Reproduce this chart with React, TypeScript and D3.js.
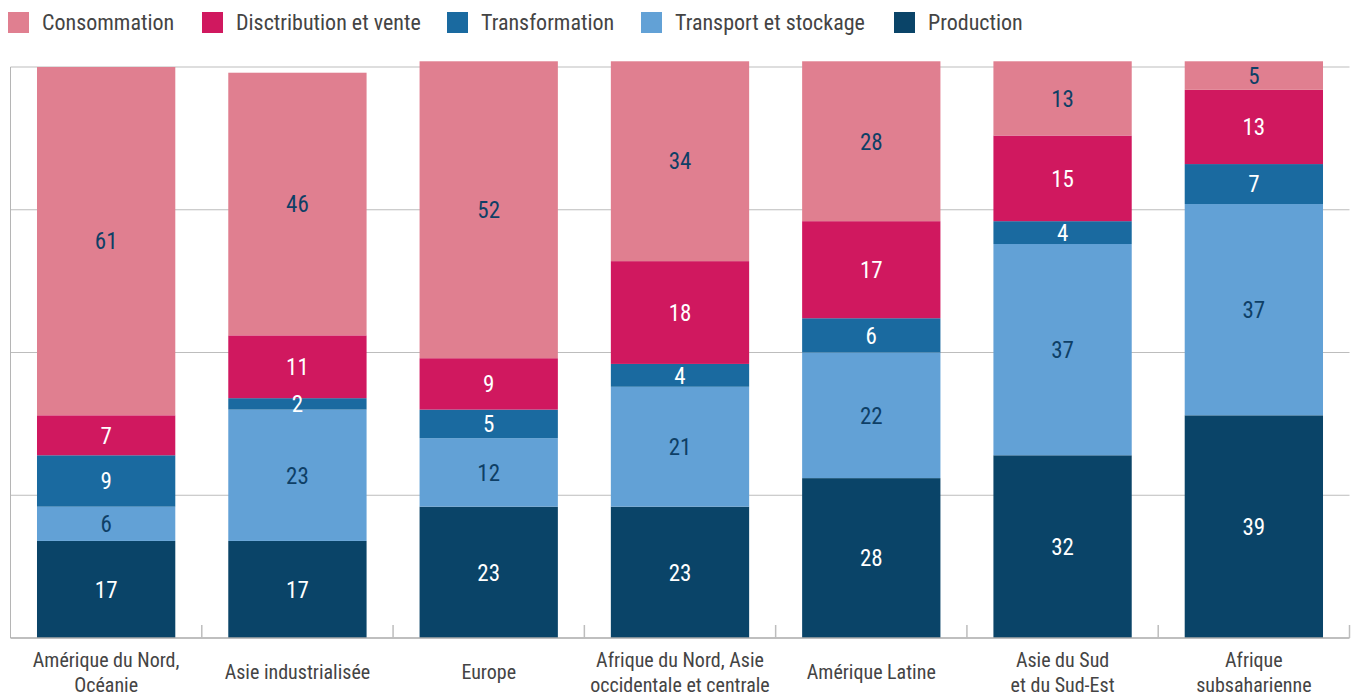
import React, { useEffect } from "react";
import * as d3 from "d3";

const categories: string[][] = [
  ["Amérique du Nord,", "Océanie"],
  ["Asie industrialisée"],
  ["Europe"],
  ["Afrique du Nord, Asie", "occidentale et centrale"],
  ["Amérique Latine"],
  ["Asie du Sud", "et du Sud-Est"],
  ["Afrique", "subsaharienne"],
];

const seriesNames = [
  "Production",
  "Transport et stockage",
  "Transformation",
  "Disctribution et vente",
  "Consommation",
];

const production = [17, 17, 23, 23, 28, 32, 39];
const transport = [6, 23, 12, 21, 22, 37, 37];
const transformation = [9, 2, 5, 4, 6, 4, 7];
const distribution = [7, 11, 9, 18, 17, 15, 13];
const consommation = [61, 46, 52, 35, 28, 13, 5];
const consommationLabels = ["61", "46", "52", "34", "28", "13", "5"];

const legendOrder = [
  "Consommation",
  "Disctribution et vente",
  "Transformation",
  "Transport et stockage",
  "Production",
];

const yTicks = [25, 50, 75, 100];

const W = 1354;
const H = 696;
const colors: Record<string, string> = {
  Production: "#0a4468",
  "Transport et stockage": "#62a1d6",
  Transformation: "#1a6aa0",
  "Disctribution et vente": "#d0185f",
  Consommation: "#e07f90",
};
const labelColor: Record<string, string> = {
  Production: "#ffffff",
  "Transport et stockage": "#0e3f66",
  Transformation: "#ffffff",
  "Disctribution et vente": "#ffffff",
  Consommation: "#0e3f66",
};
const FONT = "'Liberation Sans Narrow', 'Roboto Condensed', 'Liberation Sans', Arial, sans-serif";

export default function App() {
  useEffect(() => {
    document.body.style.margin = "0";
    document.body.style.overflow = "hidden";
  }, []);

  const left = 10.5;
  const right = 1349.5;
  const top = 67;
  const bottom = 638;

  const keys = categories.map((c) => c.join(" "));
  const x = d3
    .scaleBand<string>()
    .domain(keys)
    .range([left, right])
    .paddingInner(0.277)
    .paddingOuter(0.1385);
  const y = d3.scaleLinear().domain([0, 100]).range([bottom, top]);

  const seriesData: Record<string, number[]> = {
    Production: production,
    "Transport et stockage": transport,
    Transformation: transformation,
    "Disctribution et vente": distribution,
    Consommation: consommation,
  };
  const rows = keys.map((k, i) => {
    const r: any = { key: k };
    seriesNames.forEach((s) => (r[s] = seriesData[s][i]));
    return r;
  });
  const stacked = d3.stack<any>().keys(seriesNames)(rows);

  const step = x.step();
  const boundaries = d3.range(1, keys.length + 1).map((i) => left + i * step);

  const legendX = [8, 202, 447, 641, 894];

  return (
    <svg width={W} height={H} style={{ display: "block", background: "#fff" }} fontFamily={FONT}>
      {/* gridlines */}
      {yTicks.map((t) => (
        <line key={t} x1={left} x2={right} y1={y(t)} y2={y(t)} stroke="#bdbdbd" strokeWidth={1} />
      ))}
      {/* left axis */}
      <line x1={left} x2={left} y1={y(100)} y2={bottom} stroke="#b5b5b5" strokeWidth={1} />
      {/* bars */}
      {stacked.map((layer) => (
        <g key={layer.key}>
          {layer.map((d, i) => (
            <rect
              key={i}
              x={x(keys[i])}
              width={x.bandwidth()}
              y={y(d[1])}
              height={y(d[0]) - y(d[1])}
              fill={colors[layer.key]}
            />
          ))}
        </g>
      ))}
      {/* value labels */}
      {stacked.map((layer) => (
        <g key={"l" + layer.key}>
          {layer.map((d, i) => {
            const txt =
              layer.key === "Consommation" ? consommationLabels[i] : String(seriesData[layer.key][i]);
            return (
              <text
                key={i}
                x={(x(keys[i]) as number) + x.bandwidth() / 2}
                y={(y(d[0]) + y(d[1])) / 2}
                dy="0.36em"
                textAnchor="middle"
                fontSize={23}
                fill={labelColor[layer.key]}
              >
                {txt}
              </text>
            );
          })}
        </g>
      ))}
      {/* baseline and ticks */}
      <line x1={left} x2={right} y1={bottom} y2={bottom} stroke="#aaaaaa" strokeWidth={1.5} />
      {boundaries.map((bx, i) => (
        <line key={i} x1={bx} x2={bx} y1={bottom - 13} y2={bottom} stroke="#bdbdbd" strokeWidth={1.5} />
      ))}
      {/* category labels */}
      {categories.map((lines, i) => {
        const cx = (x(keys[i]) as number) + x.bandwidth() / 2;
        const baselines = lines.length === 1 ? [679] : [667, 692];
        return (
          <text key={i} textAnchor="middle" fontSize={20} fill="#444">
            {lines.map((l, j) => (
              <tspan key={j} x={cx} y={baselines[j]}>
                {l}
              </tspan>
            ))}
          </text>
        );
      })}
      {/* legend */}
      {legendOrder.map((name, i) => (
        <g key={name} transform={`translate(${legendX[i]},0)`}>
          <rect x={0} y={12} width={21} height={21} fill={colors[name]} />
          <text x={34} y={30} fontSize={22} fill="#444">
            {name}
          </text>
        </g>
      ))}
    </svg>
  );
}
